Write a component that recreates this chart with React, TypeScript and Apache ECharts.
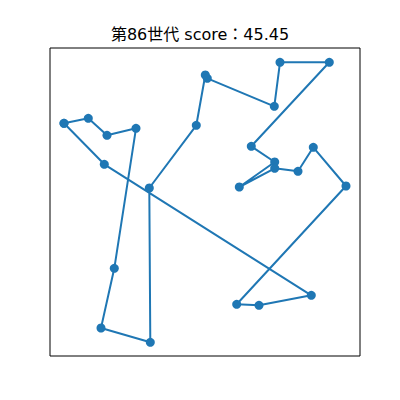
import React, { useEffect, useRef } from "react";
import * as echarts from "echarts";

// Route points (x, y) in plot data units, in visiting order (closed loop)
const routeX = [14, 38.3, 57, 86, 64.3, 51, 100.3, 99.3, 146.3, 155.3, 157.3, 224.3, 230, 279.3, 201.3, 224.7, 189.3, 224.7, 248, 263.3, 296, 186.7, 209, 261.3, 54.3, 14];
const routeY = [232.7, 237.7, 220.7, 227.7, 87.7, 28, 13.7, 168, 230.7, 281, 277.7, 249.7, 293.7, 293.7, 209.7, 194, 169, 187.7, 184.7, 208.7, 170, 51.7, 50.7, 60.7, 191.7, 232.7];

const titleText = "第86世代 score：45.45";

export default function App() {
  const ref = useRef<HTMLDivElement>(null);
  useEffect(() => {
    if (!ref.current) return;
    const chart = echarts.init(ref.current, null, { renderer: "svg" });
    const data = routeX.map((x, i) => [x, routeY[i]]);
    chart.setOption({
      animation: false,
      backgroundColor: "#ffffff",
      title: {
        text: titleText,
        left: "center",
        top: 21,
        textStyle: {
          fontSize: 16,
          fontWeight: "normal",
          color: "#000",
          fontFamily: "'DejaVu Sans', 'Noto Sans CJK JP', sans-serif",
        },
      },
      grid: {
        left: 50,
        top: 48,
        width: 310,
        height: 308,
        show: true,
        borderColor: "#000",
        borderWidth: 1,
        backgroundColor: "transparent",
      },
      xAxis: {
        type: "value",
        min: 0,
        max: 310,
        axisLine: { show: false },
        axisTick: { show: false },
        axisLabel: { show: false },
        splitLine: { show: false },
      },
      yAxis: {
        type: "value",
        min: 0,
        max: 308,
        axisLine: { show: false },
        axisTick: { show: false },
        axisLabel: { show: false },
        splitLine: { show: false },
      },
      series: [
        {
          type: "line",
          data,
          symbol: "circle",
          symbolSize: 9,
          showAllSymbol: true,
          lineStyle: { color: "#1f77b4", width: 2 },
          itemStyle: { color: "#1f77b4" },
        },
      ],
    });
    return () => chart.dispose();
  }, []);
  return (
    <div
      ref={ref}
      style={{ position: "fixed", left: 0, top: 0, width: 400, height: 400 }}
    />
  );
}
